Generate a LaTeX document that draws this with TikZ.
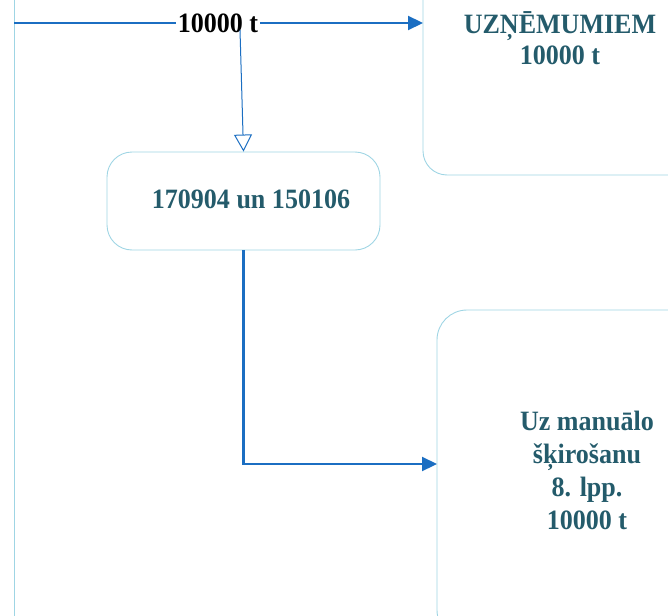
\documentclass[tikz,border=0pt]{standalone}
\usepackage{fontspec}
\setmainfont{Liberation Serif}
\newfontfamily\condserif[FakeStretch=0.93]{Liberation Serif}
\usetikzlibrary{arrows.meta}
\definecolor{tealtxt}{HTML}{245B6B}
\definecolor{boxline}{HTML}{9FD5E4}
\definecolor{arrowblue}{HTML}{1B6EC2}
\tikzset{
  boxshape/.style={draw=boxline, line width=0.9pt},
  boxtext/.style={text=tealtxt, font=\condserif\fontsize{28}{33}\selectfont\bfseries, align=center, inner sep=0pt},
  flow/.style={draw=arrowblue, line width=2.2pt, -{Triangle[length=15pt,width=14pt]}},
  thinflow/.style={draw=arrowblue, line width=1pt, -{Triangle[open,length=17pt,width=18pt,line width=1pt]}},
}
\begin{document}
\begin{tikzpicture}[x=1pt,y=-1pt]
\useasboundingbox (0,0) rectangle (668,615);
\clip (0,0) rectangle (668,615);
% outer container edge
\draw[boxshape] (14,-50) -- (14,700);
% top right box
\draw[boxshape, rounded corners=24pt] (700,-60) -- (423,-60) -- (423,175) -- (700,175);
\node[boxtext, font=\condserif\fontsize{28}{31}\selectfont\bfseries] (trtext) at (560,38) {UZŅĒMUMIEM\\10000 t};
% middle box
\node[boxshape, rounded corners=25pt, minimum width=273pt, minimum height=98pt, inner sep=0pt] (mid) at (243.5,201) {};
\node[boxtext] (midtext) at (251,199) {170904 un 150106};
% bottom right box
\draw[boxshape, rounded corners=30pt] (700,310) -- (437,310) -- (437,640) -- (700,640);
\node[boxtext] (brtext) at (587,470) {Uz manuālo\\šķirošanu\\8. lpp.\\10000 t};
% coordinates
\coordinate (start) at (14,23);
\coordinate (trin) at (423,23);
\coordinate (brin) at (437,464);
\coordinate (vtop) at (240,30);
% top horizontal arrow
\draw[flow] (start) -- (trin);
\node[fill=white, inner sep=1.5pt, font=\condserif\fontsize{28}{30}\selectfont\bfseries] (lbl) at (218,23) {10000 t};
% thin arrow to middle box
\draw[thinflow] (vtop) -- (mid.north);
% middle to bottom right
\draw[flow] (mid.south) |- (brin);
\end{tikzpicture}
\end{document}
